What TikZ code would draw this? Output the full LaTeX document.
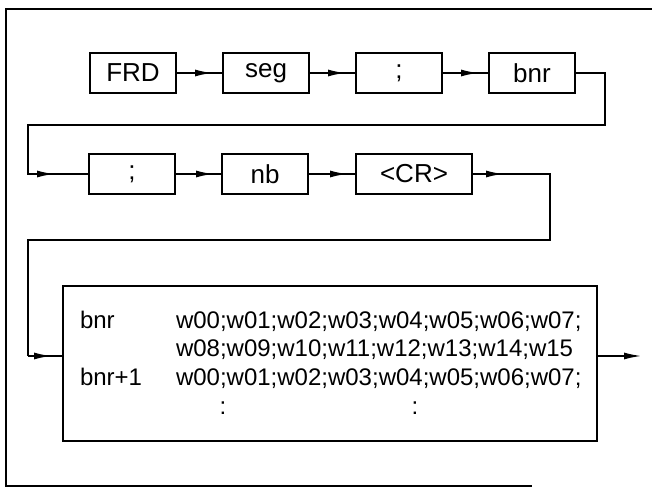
\documentclass[tikz,border=0pt]{standalone}
\usepackage{fontspec}
\setmainfont{Liberation Sans}
\usetikzlibrary{arrows.meta,positioning,decorations.markings}

\begin{document}
\begin{tikzpicture}[
    x=0.5pt, y=-0.5pt,
    line width=1pt,
    box/.style={draw, minimum height=20pt, minimum width=#1, inner sep=0pt, font=\fontsize{13}{15}\selectfont},
    box/.default=43pt,
    txt/.style={inner sep=0pt, anchor=base west, font=\fontsize{12}{14}\selectfont},
    tipat/.style={postaction={decorate}, decoration={markings, mark=at position #1 with {\arrow{Latex[length=9pt,width=3.5pt]}}}}
]
\useasboundingbox (0,0) rectangle (652,490);

% outer frame
\draw (652,9) -- (6,9) -- (6,486) -- (532,486);

% first row
\node[box] (frd) at (133,73) {FRD};
\node[box, right=22.5pt of frd] (seg) {seg};
\node[box, right=22.5pt of seg] (semi1) {;};
\node[box, right=22.5pt of semi1] (bnr) {bnr};

% second row
\node[box] (semi2) at (132,174) {;};
\node[box, right=22.5pt of semi2] (nb) {nb};
\node[box=58pt, right=23pt of nb] (cr) {<CR>};

% data block
\node[draw, minimum width=267pt, minimum height=77.5pt] (blk) at (330,363.5) {};
\node[txt] (l1) at (79,329) {bnr};
\node[txt] (w1) at (175,329) {w00;w01;w02;w03;w04;w05;w06;w07;};
\node[txt] (w2) at (175,357) {w08;w09;w10;w11;w12;w13;w14;w15};
\node[txt] (l2) at (79,386) {bnr+1};
\node[txt] (w3) at (175,386) {w00;w01;w02;w03;w04;w05;w06;w07;};
\node[txt, anchor=base] (d1) at (223,415) {:};
\node[txt, anchor=base] (d2) at (415,415) {:};

% connectors
\coordinate (wr1) at (605,125);
\coordinate (wr2) at (28,174);
\coordinate (wr3) at (550,240);
\coordinate (wr4) at (28,356);
\coordinate (out) at (642,356);

\draw[tipat=-4.5pt] (frd) -- (seg);
\draw[tipat=-4.5pt] (seg) -- (semi1);
\draw[tipat=-4.5pt] (semi1) -- (bnr);
\draw[tipat=-16.5pt] (bnr.east) -| (wr1) -| (wr2) -- (semi2.west);
\draw[tipat=-3.5pt] (semi2) -- (nb);
\draw[tipat=-3.5pt] (nb) -- (cr);
\draw[tipat=15.5pt] (cr.east) -| (wr3) -| (wr4);
\draw[tipat=-5pt] (wr4) -- (wr4 -| blk.west);
\draw[-{Latex[length=9pt,width=3.5pt]}] (out -| blk.east) -- (out);
\end{tikzpicture}
\end{document}
